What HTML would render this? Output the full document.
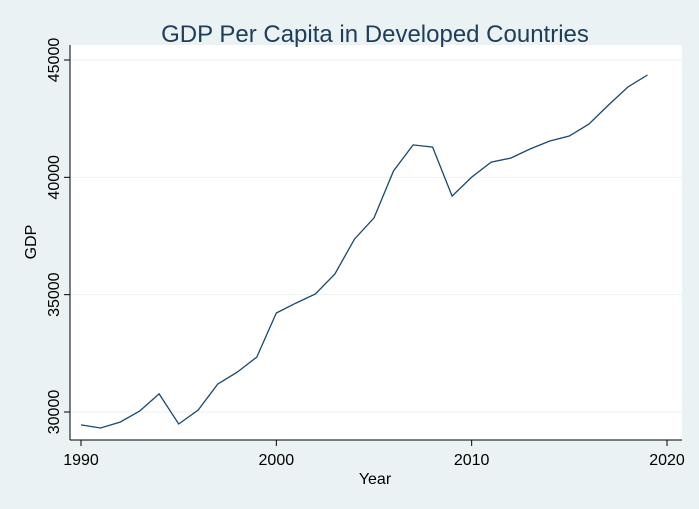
<!DOCTYPE html>
<html><head><meta charset="utf-8"><style>
html,body{margin:0;padding:0;background:#eaf2f3;}
svg{display:block;font-family:"Liberation Sans",Arial,sans-serif;}
</style></head><body>
<svg id="chart" width="699" height="509" viewBox="0 0 699 509">
<rect x="0" y="0" width="699" height="509" fill="#eaf2f3"/>
<rect x="70" y="45" width="612" height="395" fill="#ffffff"/>
<text x="375" y="42" text-anchor="middle" font-size="24" fill="#1e3d59">GDP Per Capita in Developed Countries</text>
<g id="grid"></g>
<g id="axes"></g>
<path id="line" fill="none" stroke="#1a476f" stroke-width="1.3"/>
<text x="375" y="484" text-anchor="middle" font-size="16" fill="#000">Year</text>
<text x="0" y="0" transform="translate(36,242) rotate(-90)" text-anchor="middle" font-size="16" fill="#000">GDP</text>
</svg>
<script>
const years=[1990,1991,1992,1993,1994,1995,1996,1997,1998,1999,2000,2001,2002,2003,2004,2005,2006,2007,2008,2009,2010,2011,2012,2013,2014,2015,2016,2017,2018,2019];
const gdp=[29450,29320,29570,30040,30770,29490,30085,31190,31700,32340,34220,34640,35030,35880,37370,38270,40270,41380,41290,39200,40010,40650,40820,41210,41550,41760,42270,43080,43850,44360];
const xTicks=[1990,2000,2010,2020];
const yTicks=[30000,35000,40000,45000];
const NS="http://www.w3.org/2000/svg";
function xs(v){return 81+(v-1990)*(586/30);}
function ys(v){return 412-(v-30000)*(352/15000);}
const grid=document.getElementById('grid'),axes=document.getElementById('axes');
function mk(tag,attrs,parent){const e=document.createElementNS(NS,tag);for(const k in attrs)e.setAttribute(k,attrs[k]);parent.appendChild(e);return e;}
yTicks.forEach(t=>{
  const g=mk('line',{x1:70,x2:682,y1:ys(t),y2:ys(t),stroke:'#eaf2f3','stroke-width':1},grid);
  
  
  const tk=mk('line',{x1:64,x2:70,y1:ys(t),y2:ys(t),stroke:'#000'},axes);
  
  
  const tx=mk('text',{transform:`translate(59,${ys(t)}) rotate(-90)`,'text-anchor':'middle','font-size':16,fill:'#000'},axes);
  tx.textContent=t;
  
  
});
xTicks.forEach(t=>{
  const tk=mk('line',{x1:xs(t),x2:xs(t),y1:440,y2:446,stroke:'#000'},axes);
  
  
  const tx=mk('text',{x:xs(t),y:465,'text-anchor':'middle','font-size':16,fill:'#000'},axes);
  tx.textContent=t;
  
  
});
const ya=mk('line',{x1:70,x2:70,y1:45,y2:440,stroke:'#000'},axes);


const xa=mk('line',{x1:70,x2:682,y1:440,y2:440,stroke:'#000'},axes);


document.getElementById('line').setAttribute('d',years.map((y,i)=>(i?'L':'M')+xs(y).toFixed(1)+' '+ys(gdp[i]).toFixed(1)).join(' '));
</script>
</body></html>
